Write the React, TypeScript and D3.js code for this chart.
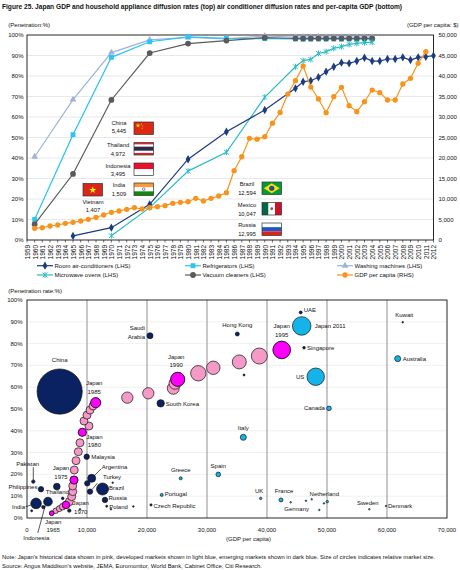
import React from 'react';
import * as d3 from 'd3';

const FONT = "'Liberation Sans', Arial, Helvetica, sans-serif";

// ---------- top chart data ----------
const years = d3.range(1959, 2013);
const leftTicks = [0, 10, 20, 30, 40, 50, 60, 70, 80, 90, 100];
const rightTicks = [0, 5000, 10000, 15000, 20000, 25000, 30000, 35000, 40000, 45000, 50000];

const roomAirConditioners: [number, number][] = [
  [1965, 2], [1970, 6], [1975, 17.4], [1980, 39.4], [1985, 52.8], [1990, 63.4],
  [1994, 74], [1995, 77.2], [1996, 77.7], [1997, 79.4], [1998, 82.1], [1999, 84.5],
  [2000, 86.5], [2001, 86.2], [2002, 87.3], [2003, 88.9], [2004, 87.3], [2005, 87.3],
  [2006, 88.3], [2007, 88.3], [2008, 89.1], [2009, 87.8], [2010, 89.1], [2011, 89.4], [2012, 89.9],
];
const refrigerators: [number, number][] = [
  [1960, 10.1], [1965, 51.4], [1970, 89.1], [1975, 96.7], [1980, 99.1], [1985, 98.4], [1990, 98.2],
  [1994, 98.1], [1995, 97.9], [1996, 98.0], [1997, 98.1], [1998, 98.0], [1999, 98.1],
  [2000, 98.0], [2001, 98.1], [2002, 98.0], [2003, 98.1], [2004, 98.0],
];
const washingMachines: [number, number][] = [
  [1960, 40.6], [1965, 68.5], [1970, 91.4], [1975, 97.6], [1980, 98.8], [1985, 98.1], [1990, 99.5],
  [1994, 99.0], [1995, 99.1], [1996, 99.0], [1997, 99.1], [1998, 99.0], [1999, 99.1],
  [2000, 99.0], [2001, 99.1], [2002, 99.0], [2003, 99.1], [2004, 99.0],
];
const microwaveOvens: [number, number][] = [
  [1970, 2.1], [1975, 15.8], [1980, 33.6], [1985, 42.8], [1990, 69.7], [1994, 84.5], [1995, 87.5],
  [1996, 88.1], [1997, 91], [1998, 91.9], [1999, 93.5], [2000, 94.3], [2001, 95.4], [2002, 95.9],
  [2003, 96.3], [2004, 96.4],
];
const vacuumCleaners: [number, number][] = [
  [1960, 7.7], [1965, 32.2], [1970, 68.3], [1975, 91.2], [1980, 95.8], [1985, 97.3], [1990, 98.7],
  [1994, 98.3], [1995, 98.3], [1996, 98.3], [1997, 98.3], [1998, 98.3], [1999, 98.3],
  [2000, 98.3], [2001, 98.3], [2002, 98.3], [2003, 98.3], [2004, 98.3],
];
const gdpPerCapita: [number, number][] = [
  [1960, 2850], [1961, 3000], [1962, 3415], [1963, 3660], [1964, 4070], [1965, 4320], [1966, 4630],
  [1967, 5050], [1968, 5540], [1969, 6100], [1970, 6760], [1971, 7070], [1972, 7490], [1973, 7880],
  [1974, 7560], [1975, 7880], [1976, 8120], [1977, 8370], [1978, 8950], [1979, 9200], [1980, 9340],
  [1981, 10170], [1982, 9510], [1983, 10170], [1984, 10730], [1985, 11540], [1986, 16900],
  [1987, 20300], [1988, 24800], [1989, 24600], [1990, 25200], [1991, 28500], [1992, 31100],
  [1993, 35600], [1994, 38850], [1995, 42440], [1996, 37300], [1997, 34400], [1998, 31050],
  [1999, 34950], [2000, 37250], [2001, 32750], [2002, 31300], [2003, 33730], [2004, 36580],
  [2005, 35930], [2006, 34150], [2007, 34150], [2008, 38050], [2009, 39440], [2010, 43100], [2011, 45930],
];

const flagCountries = ['China', 'Thailand', 'Indonesia', 'India', 'Vietnam', 'Brazil', 'Mexico', 'Russia'];
const flagGdp = ['5,445', '4,972', '3,495', '1,509', '1,407', '12,594', '10,047', '12,995'];

// ---------- bottom chart data ----------
type Bubble = { name: string; gdp: number; pct: number; size: number };

const emergingMarkets: Bubble[] = [
  { name: 'China', gdp: 5445, pct: 58.0, size: 510 },
  { name: 'India', gdp: 1509, pct: 6.7, size: 28 },
  { name: 'Indonesia', gdp: 3495, pct: 7.5, size: 19 },
  { name: 'Philippines', gdp: 2330, pct: 13.2, size: 7.3 },
  { name: 'Pakistan', gdp: 1050, pct: 16.7, size: 2.9 },
  { name: 'Thailand', gdp: 4972, pct: 14.4, size: 11 },
  { name: '', gdp: 780, pct: 3.3, size: 1 },
  { name: '', gdp: 2720, pct: 5.0, size: 2.9 },
  { name: '', gdp: 5950, pct: 9.0, size: 1.7 },
  { name: '', gdp: 7050, pct: 3.4, size: 2.9 },
  { name: '', gdp: 8830, pct: 4.0, size: 0.6 },
  { name: 'Malaysia', gdp: 9950, pct: 28.1, size: 7.3 },
  { name: 'Mexico', gdp: 10047, pct: 15.9, size: 7.3 },
  { name: 'Argentina', gdp: 10780, pct: 18.2, size: 16 },
  { name: 'Turkey', gdp: 10500, pct: 12.1, size: 7.3 },
  { name: 'Brazil', gdp: 12594, pct: 13.3, size: 36 },
  { name: 'Russia', gdp: 12995, pct: 8.3, size: 7.3 },
  { name: 'Poland', gdp: 13280, pct: 5.4, size: 1 },
  { name: '', gdp: 14000, pct: 4.0, size: 0.6 },
  { name: '', gdp: 14280, pct: 16.2, size: 0.6 },
  { name: '', gdp: 17720, pct: 5.3, size: 0.6 },
  { name: 'Czech Republic', gdp: 20670, pct: 6.0, size: 1.2 },
  { name: 'Saudi Arabia', gdp: 20500, pct: 83.6, size: 9 },
  { name: 'South Korea', gdp: 22280, pct: 52.6, size: 13.7 },
  { name: 'Hong Kong', gdp: 35050, pct: 84.4, size: 4 },
  { name: '', gdp: 36170, pct: 65.6, size: 1 },
  { name: 'UAE', gdp: 45620, pct: 94.3, size: 2.2 },
  { name: 'Singapore', gdp: 46170, pct: 78.1, size: 1.7 },
  { name: 'Kuwait', gdp: 62620, pct: 89.8, size: 0.6 },
];

const developedMarkets: Bubble[] = [
  { name: 'Japan 2011', gdp: 45780, pct: 88.1, size: 86 },
  { name: 'US', gdp: 48120, pct: 64.8, size: 76 },
  { name: 'Canada', gdp: 50330, pct: 50.3, size: 5.3 },
  { name: 'Australia', gdp: 61780, pct: 73.1, size: 9 },
  { name: 'Italy', gdp: 36050, pct: 37.0, size: 9 },
  { name: 'Spain', gdp: 31880, pct: 20.0, size: 5.3 },
  { name: 'Greece', gdp: 25620, pct: 18.2, size: 2.3 },
  { name: 'Portugal', gdp: 22450, pct: 10.6, size: 2.3 },
  { name: 'UK', gdp: 38950, pct: 9.0, size: 1.4 },
  { name: 'France', gdp: 42330, pct: 8.3, size: 4 },
  { name: 'Germany', gdp: 43950, pct: 7.2, size: 0.6 },
  { name: '', gdp: 46500, pct: 7.9, size: 0.6 },
  { name: '', gdp: 47450, pct: 8.6, size: 0.6 },
  { name: '', gdp: 48720, pct: 3.7, size: 0.6 },
  { name: '', gdp: 49500, pct: 6.7, size: 0.6 },
  { name: 'Netherland', gdp: 50050, pct: 7.5, size: 1.4 },
  { name: 'Sweden', gdp: 57050, pct: 4.0, size: 0.6 },
  { name: 'Denmark', gdp: 59830, pct: 5.5, size: 0.6 },
];

// Japan's own path, 1965 -> 1995 (labelled years highlighted)
const japanHistory: Bubble[] = [
  { name: 'Japan 1965', gdp: 4120, pct: 2.2, size: 5.3 },
  { name: '', gdp: 4780, pct: 3.3, size: 7.3 },
  { name: '', gdp: 5380, pct: 4.3, size: 9 },
  { name: '', gdp: 5950, pct: 5.2, size: 11 },
  { name: 'Japan 1970', gdp: 6500, pct: 6.0, size: 13.7 },
  { name: '', gdp: 7050, pct: 7.5, size: 16 },
  { name: '', gdp: 7450, pct: 9.8, size: 16 },
  { name: '', gdp: 7620, pct: 12.1, size: 16 },
  { name: '', gdp: 7620, pct: 14.7, size: 16 },
  { name: 'Japan 1975', gdp: 7830, pct: 17.4, size: 16 },
  { name: '', gdp: 7880, pct: 22.0, size: 16 },
  { name: '', gdp: 8170, pct: 26.3, size: 16 },
  { name: '', gdp: 8550, pct: 30.4, size: 16 },
  { name: '', gdp: 8830, pct: 34.5, size: 16 },
  { name: 'Japan 1980', gdp: 9220, pct: 39.3, size: 16 },
  { name: '', gdp: 10330, pct: 42.2, size: 16 },
  { name: '', gdp: 9500, pct: 44.5, size: 16 },
  { name: '', gdp: 10000, pct: 47.2, size: 16 },
  { name: '', gdp: 10500, pct: 49.5, size: 16 },
  { name: '', gdp: 11000, pct: 51.4, size: 16 },
  { name: 'Japan 1985', gdp: 11450, pct: 52.9, size: 25 },
  { name: '', gdp: 16720, pct: 55.2, size: 32 },
  { name: '', gdp: 20220, pct: 57.2, size: 32 },
  { name: '', gdp: 24380, pct: 59.5, size: 36 },
  { name: '', gdp: 24670, pct: 61.8, size: 36 },
  { name: 'Japan 1990', gdp: 25120, pct: 63.6, size: 49 },
  { name: '', gdp: 28550, pct: 66.4, size: 59 },
  { name: '', gdp: 31050, pct: 68.9, size: 45 },
  { name: '', gdp: 35380, pct: 71.6, size: 49 },
  { name: '', gdp: 38720, pct: 74.3, size: 64 },
  { name: 'Japan 1995', gdp: 42450, pct: 77.1, size: 76 },
];

const bottomXTicks = [0, 10000, 20000, 30000, 40000, 50000, 60000, 70000];
const bottomYTicks = [0, 10, 20, 30, 40, 50, 60, 70, 80, 90, 100];

// ---------- styling / layout ----------
const NAVY = '#0a2261';
const LIGHT_BLUE = '#14b4ea';
const PINK = '#f59ac6';
const MAGENTA = '#ff00ff';

type Marker = 'diamond' | 'square' | 'triangle' | 'asterisk' | 'circle' | 'gdp';
const topSeries: { label: string; data: [number, number][]; color: string; marker: Marker; rhs?: boolean }[] = [
  { label: 'Washing machines (LHS)', data: washingMachines, color: '#9fb3d8', marker: 'triangle' },
  { label: 'Refrigerators (LHS)', data: refrigerators, color: '#2cc3f5', marker: 'square' },
  { label: 'Vacuum cleaners (LHS)', data: vacuumCleaners, color: '#5a5a5a', marker: 'circle' },
  { label: 'Microwave ovens (LHS)', data: microwaveOvens, color: '#28bcc6', marker: 'asterisk' },
  { label: 'Room air-conditioners (LHS)', data: roomAirConditioners, color: '#1b3b82', marker: 'diamond' },
  { label: 'GDP per capita (RHS)', data: gdpPerCapita, color: '#f7941d', marker: 'gdp', rhs: true },
];
const legendOrder = [
  'Room air-conditioners (LHS)', 'Refrigerators (LHS)', 'Washing machines (LHS)',
  'Microwave ovens (LHS)', 'Vacuum cleaners (LHS)', 'GDP per capita (RHS)',
];

const flagLayout: Record<string, { fx: number; fy: number; tx: number; ty: number }> = {
  China: { fx: 134, fy: 122, tx: 119, ty: 122.5 },
  Thailand: { fx: 134, fy: 142.5, tx: 118, ty: 145 },
  Indonesia: { fx: 134, fy: 163, tx: 118, ty: 165.7 },
  India: { fx: 134, fy: 183, tx: 119, ty: 185 },
  Vietnam: { fx: 83, fy: 183.5, tx: 93, ty: 201.7 },
  Brazil: { fx: 262, fy: 182, tx: 247, ty: 184.3 },
  Mexico: { fx: 262, fy: 202.5, tx: 247, ty: 205 },
  Russia: { fx: 262, fy: 223, tx: 247, ty: 225 },
};

type LabelPos = { dx: number; dy: number; anchor: 'start' | 'middle' | 'end'; lines?: string[]; leader?: [number, number, number, number] };
const labelLayout: Record<string, LabelPos> = {
  China: { dx: 0, dy: -31.5, anchor: 'middle' },
  'Saudi Arabia': { dx: -5, dy: -7.4, anchor: 'end', lines: ['Saudi', 'Arabia'] },
  'South Korea': { dx: 5, dy: 0.5, anchor: 'start' },
  'Hong Kong': { dx: 0, dy: -9.5, anchor: 'middle' },
  UAE: { dx: 3, dy: -2, anchor: 'start' },
  Singapore: { dx: 3, dy: 0, anchor: 'start' },
  Kuwait: { dx: 1.5, dy: -7.5, anchor: 'middle' },
  'Japan 2011': { dx: 13, dy: 0, anchor: 'start' },
  US: { dx: -11.5, dy: 0, anchor: 'end' },
  Canada: { dx: -4, dy: 0, anchor: 'end' },
  Australia: { dx: 5, dy: 0, anchor: 'start' },
  Italy: { dx: 0, dy: -9, anchor: 'middle' },
  Spain: { dx: 0, dy: -8.5, anchor: 'middle' },
  Greece: { dx: 0, dy: -8.5, anchor: 'middle' },
  Portugal: { dx: 3, dy: -1, anchor: 'start' },
  UK: { dx: -1.5, dy: -7.5, anchor: 'middle' },
  France: { dx: 3, dy: -9, anchor: 'middle' },
  Germany: { dx: 6, dy: 6.7, anchor: 'middle' },
  Netherland: { dx: -3, dy: -7.7, anchor: 'middle' },
  Sweden: { dx: -1.5, dy: -6.7, anchor: 'middle' },
  Denmark: { dx: 2, dy: 0, anchor: 'start' },
  'Czech Republic': { dx: 2.5, dy: 1.5, anchor: 'start' },
  Poland: { dx: 2.5, dy: 0.5, anchor: 'start' },
  Russia: { dx: 3.5, dy: -2.3, anchor: 'start' },
  Brazil: { dx: 6.5, dy: -0.7, anchor: 'start' },
  Turkey: { dx: 13, dy: -15, anchor: 'start', leader: [7.3, -8.4, 2, -2] },
  Argentina: { dx: 10, dy: -11.6, anchor: 'start', leader: [9.5, -9.5, 2.5, -2.5] },
  Malaysia: { dx: 4.5, dy: 0, anchor: 'start' },
  Thailand: { dx: -11, dy: 5.5, anchor: 'start' },
  Philippines: { dx: -3.5, dy: -2.5, anchor: 'end' },
  Pakistan: { dx: -5.6, dy: -17.5, anchor: 'middle', leader: [0, -14.5, 0, -1.5] },
  India: { dx: -11, dy: 3.4, anchor: 'end', leader: [-10.5, 3.4, -5, 1.5] },
  Indonesia: { dx: -11.7, dy: 36.6, anchor: 'middle', leader: [-10.2, 31.3, -2.7, 3.8] },
  'Japan 1965': { dx: 1.5, dy: 8.4, anchor: 'middle', lines: ['Japan', '1965'] },
  'Japan 1970': { dx: 14.8, dy: -1.7, anchor: 'middle', lines: ['Japan', '1970'] },
  'Japan 1975': { dx: -13, dy: -11.7, anchor: 'middle', lines: ['Japan', '1975'] },
  'Japan 1980': { dx: 12, dy: 4.4, anchor: 'middle', lines: ['Japan', '1980'] },
  'Japan 1985': { dx: -1.5, dy: -19.4, anchor: 'middle', lines: ['Japan', '1985'] },
  'Japan 1990': { dx: -1.5, dy: -22.6, anchor: 'middle', lines: ['Japan', '1990'] },
  'Japan 1995': { dx: 0, dy: -24, anchor: 'middle', lines: ['Japan', '1995'] },
};

const sym = (type: d3.SymbolType, size: number) => d3.symbol(type, size)()!;

function MarkerShape({ kind, color, cx, cy }: { kind: Marker; color: string; cx: number; cy: number }) {
  const t = `translate(${cx},${cy})`;
  if (kind === 'asterisk') {
    return (
      <path transform={t} d="M-2.4,-2.4L2.4,2.4M-2.4,2.4L2.4,-2.4M0,-3L0,3" stroke={color} strokeWidth={1} fill="none" />
    );
  }
  const shapes: Record<string, [d3.SymbolType, number]> = {
    diamond: [d3.symbolDiamond, 20],
    square: [d3.symbolSquare, 24],
    triangle: [d3.symbolTriangle, 20],
    circle: [d3.symbolCircle, 26],
    gdp: [d3.symbolCircle, 22],
  };
  const [s, size] = shapes[kind];
  return <path transform={t} d={sym(s, size)} fill={color} />;
}

function Flag({ kind, x, y }: { kind: string; x: number; y: number }) {
  const w = 19.5;
  const h = 12.5;
  const stripesH = (cols: string[], weights: number[]) => {
    const total = d3.sum(weights);
    let acc = 0;
    return weights.map((wt, i) => {
      const el = <rect key={i} x={x} y={y + (acc / total) * h} width={w} height={(wt / total) * h} fill={cols[i]} />;
      acc += wt;
      return el;
    });
  };
  let body: React.ReactNode = null;
  if (kind === 'China') {
    body = (
      <>
        <rect x={x} y={y} width={w} height={h} fill="#de2910" />
        <path transform={`translate(${x + 4},${y + 3.6})`} d={sym(d3.symbolStar, 7)} fill="#ffde00" />
        <path transform={`translate(${x + 7.5},${y + 2})`} d={sym(d3.symbolStar, 1)} fill="#ffde00" />
        <path transform={`translate(${x + 8.5},${y + 4})`} d={sym(d3.symbolStar, 1)} fill="#ffde00" />
        <path transform={`translate(${x + 8.2},${y + 6.2})`} d={sym(d3.symbolStar, 1)} fill="#ffde00" />
      </>
    );
  } else if (kind === 'Thailand') {
    body = stripesH(['#e3242b', '#ffffff', '#2d2a4a', '#ffffff', '#e3242b'], [1, 1, 2, 1, 1]);
  } else if (kind === 'Indonesia') {
    body = stripesH(['#e8112d', '#ffffff'], [1, 1]);
  } else if (kind === 'India') {
    body = (
      <>
        {stripesH(['#ff9933', '#ffffff', '#138808'], [1, 1, 1])}
        <circle cx={x + w / 2} cy={y + h / 2} r={1.3} fill="none" stroke="#000080" strokeWidth={0.5} />
      </>
    );
  } else if (kind === 'Vietnam') {
    body = (
      <>
        <rect x={x} y={y} width={w} height={h} fill="#da251d" />
        <path transform={`translate(${x + w / 2},${y + h / 2 + 0.3})`} d={sym(d3.symbolStar, 16)} fill="#ffff00" />
      </>
    );
  } else if (kind === 'Brazil') {
    body = (
      <>
        <rect x={x} y={y} width={w} height={h} fill="#009c3b" />
        <polygon
          points={`${x + 1.8},${y + h / 2} ${x + w / 2},${y + 1.3} ${x + w - 1.8},${y + h / 2} ${x + w / 2},${y + h - 1.3}`}
          fill="#ffdf00"
        />
        <circle cx={x + w / 2} cy={y + h / 2} r={2.6} fill="#1d4e9e" />
      </>
    );
  } else if (kind === 'Mexico') {
    body = (
      <>
        <rect x={x} y={y} width={w / 3} height={h} fill="#006847" />
        <rect x={x + w / 3} y={y} width={w / 3} height={h} fill="#ffffff" />
        <rect x={x + (2 * w) / 3} y={y} width={w / 3} height={h} fill="#ce1126" />
        <circle cx={x + w / 2} cy={y + h / 2} r={1.4} fill="#8a5a2b" />
      </>
    );
  } else if (kind === 'Russia') {
    body = stripesH(['#ffffff', '#1c57c9', '#e0201b'], [1, 1, 1]);
  }
  return (
    <g>
      {body}
      <rect x={x} y={y} width={w} height={h} fill="none" stroke="#333" strokeWidth={0.7} />
    </g>
  );
}

export default function App() {
  // top chart scales
  const x = d3.scalePoint<number>().domain(years).range([27, 433.5]);
  const yL = d3.scaleLinear().domain([0, 100]).range([240, 35]);
  const yR = d3.scaleLinear().domain([0, 50000]).range([240, 35]);

  // bottom chart scales
  const bx = d3.scaleLinear().domain([0, 70000]).range([27, 447]);
  const by = d3.scaleLinear().domain([0, 100]).range([518, 300]);
  const br = d3.scaleSqrt().domain([0, 100]).range([0, 10]);

  const lineFor = (rhs?: boolean) =>
    d3
      .line<[number, number]>()
      .x((d) => x(d[0])!)
      .y((d) => (rhs ? yR(d[1]) : yL(d[1])));

  const txt = { fontFamily: FONT, fontSize: 6, fill: '#111' } as const;

  const legendPos = (i: number) => ({ lx: [37, 185, 337][i % 3], ly: i < 3 ? 265.7 : 275 });

  const renderBubbles = (list: Bubble[], fill: (b: Bubble) => string) =>
    list.map((b, i) => (
      <circle key={i} cx={bx(b.gdp)} cy={by(b.pct)} r={br(b.size)} fill={fill(b)} stroke="#111" strokeWidth={0.7} />
    ));

  const allBubbles = [...emergingMarkets, ...developedMarkets, ...japanHistory];

  return (
    <svg
      width={460}
      height={570}
      viewBox="0 0 460 570"
      style={{ position: 'absolute', left: 0, top: 0, background: '#fff' }}
    >
      <rect width={460} height={570} fill="#fff" />
      {/* title */}
      <text x={2} y={9.2} fontFamily={FONT} fontSize={7} fontWeight="bold" fill="#111" textLength={400} lengthAdjust="spacingAndGlyphs">
        Figure 25. Japan GDP and household appliance diffusion rates (top) air conditioner diffusion rates and per-capita GDP (bottom)
      </text>

      {/* ================= top chart ================= */}
      <text {...txt} x={8.3} y={25} dominantBaseline="central">(Penetration:%)</text>
      <text {...txt} x={458.5} y={25} textAnchor="end" dominantBaseline="central">(GDP per capita: $)</text>

      {leftTicks.map((t) => (
        <g key={t}>
          {t > 0 && t < 100 && <line x1={27} x2={433.5} y1={yL(t)} y2={yL(t)} stroke="#e2e2e2" strokeWidth={0.8} />}
          <text {...txt} x={23.5} y={yL(t)} textAnchor="end" dominantBaseline="central">{`${t}%`}</text>
        </g>
      ))}
      {rightTicks.map((t) => (
        <text key={t} {...txt} x={438.5} y={yR(t)} dominantBaseline="central">
          {d3.format(',')(t)}
        </text>
      ))}
      <rect x={27} y={35} width={406.5} height={205} fill="none" stroke="#111" strokeWidth={0.9} />
      {years.map((yr) => (
        <g key={yr}>
          <line x1={x(yr)!} x2={x(yr)!} y1={240} y2={242.5} stroke="#111" strokeWidth={0.6} />
          <text
            {...txt}
            fontSize={6.5}
            transform={`translate(${x(yr)! + 0.4},${245}) rotate(-90)`}
            textAnchor="end"
            dominantBaseline="central"
          >
            {yr}
          </text>
        </g>
      ))}

      {/* flags */}
      {flagCountries.map((c, i) => {
        const p = flagLayout[c];
        return (
          <g key={c}>
            <Flag kind={c} x={p.fx} y={p.fy} />
            <text {...txt} fontSize={5.8} x={p.tx} y={p.ty} textAnchor="middle" dominantBaseline="central">{c}</text>
            <text {...txt} fontSize={5.8} x={p.tx} y={p.ty + 8.6} textAnchor="middle" dominantBaseline="central">{flagGdp[i]}</text>
          </g>
        );
      })}

      {/* series */}
      {topSeries.map((s) => (
        <g key={s.label}>
          <path d={lineFor(s.rhs)(s.data)!} fill="none" stroke={s.color} strokeWidth={1.2} />
          {s.data.map((d) => (
            <MarkerShape key={d[0]} kind={s.marker} color={s.color} cx={x(d[0])!} cy={s.rhs ? yR(d[1]) : yL(d[1])} />
          ))}
        </g>
      ))}

      {/* legend */}
      {legendOrder.map((name, i) => {
        const s = topSeries.find((t) => t.label === name)!;
        const { lx, ly } = legendPos(i);
        return (
          <g key={name}>
            <line x1={lx} x2={lx + 16} y1={ly} y2={ly} stroke={s.color} strokeWidth={1.2} />
            <MarkerShape kind={s.marker} color={s.color} cx={lx + 8} cy={ly} />
            <text {...txt} x={lx + 17.5} y={ly} dominantBaseline="central">{name}</text>
          </g>
        );
      })}

      {/* ================= bottom chart ================= */}
      <text {...txt} x={8.3} y={290.7} dominantBaseline="central">(Penetration rate:%)</text>
      {bottomYTicks.map((t) => (
        <g key={t}>
          {t > 0 && t < 100 && <line x1={27} x2={447} y1={by(t)} y2={by(t)} stroke="#ececec" strokeWidth={0.8} />}
          <text {...txt} x={22.5} y={by(t)} textAnchor="end" dominantBaseline="central">{`${t}%`}</text>
        </g>
      ))}
      {bottomXTicks.map((t) => (
        <g key={t}>
          {t > 0 && t < 70000 && <line x1={bx(t)} x2={bx(t)} y1={300} y2={518} stroke="#9a9a9a" strokeWidth={1.1} />}
          <text {...txt} x={bx(t)} y={530} textAnchor="middle" dominantBaseline="central">
            {d3.format(',')(t)}
          </text>
        </g>
      ))}
      <text {...txt} x={248.5} y={538.5} textAnchor="middle" dominantBaseline="central">(GDP per capita)</text>

      {renderBubbles(emergingMarkets, () => NAVY)}
      {renderBubbles(developedMarkets, () => LIGHT_BLUE)}
      {renderBubbles(japanHistory, (b) => (b.name ? MAGENTA : PINK))}
      {renderBubbles(japanHistory.filter((b) => b.name), () => MAGENTA)}
      <rect x={27} y={300} width={420} height={218} fill="none" stroke="#111" strokeWidth={0.9} />

      {/* bubble labels */}
      {allBubbles.map((b, i) => {
        const l = labelLayout[b.name];
        if (!b.name || !l) return null;
        const cx = bx(b.gdp);
        const cy = by(b.pct);
        const lines = l.lines ?? [b.name];
        return (
          <g key={`l${i}`}>
            {l.leader && (
              <line
                x1={cx + l.leader[0]}
                y1={cy + l.leader[1]}
                x2={cx + l.leader[2]}
                y2={cy + l.leader[3]}
                stroke="#111"
                strokeWidth={0.7}
              />
            )}
            {lines.map((ln, k) => (
              <text
                key={k}
                {...txt}
                x={cx + l.dx}
                y={cy + l.dy + k * 8.6}
                textAnchor={l.anchor}
                dominantBaseline="central"
              >
                {ln}
              </text>
            ))}
          </g>
        );
      })}

      {/* notes */}
      <text {...txt} fontSize={5.8} x={2} y={556.5} dominantBaseline="central" textLength={433} lengthAdjust="spacingAndGlyphs">
        Note: Japan's historical data shown in pink, developed markets shown in light blue, emerging markets shown in dark blue. Size of circles indicates relative market size.
      </text>
      <text {...txt} fontSize={5.8} x={2} y={565.5} dominantBaseline="central" textLength={260} lengthAdjust="spacingAndGlyphs">
        Source: Angus Maddison's website, JEMA, Euromonitor, World Bank, Cabinet Office, Citi Research.
      </text>
    </svg>
  );
}
